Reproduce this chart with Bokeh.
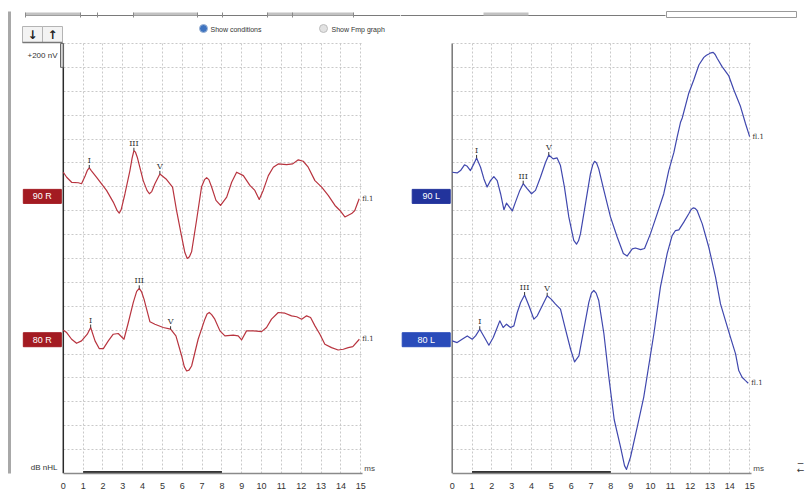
import numpy as np
from bokeh.plotting import figure
from bokeh.layouts import row
from bokeh.models import FixedTicker
from bokeh.core.properties import value
from bokeh.embed import file_html
from bokeh.resources import INLINE

# ------------------------------------------------------------------ data
time_ticks = list(range(0, 16))            # ms
grid_ms = list(range(1, 16))               # vertical dotted lines
grid_nv = list(range(200, 3601, 200))      # one division = 200 nV
stim_window = (1, 8)                       # thick bar on the time axis (ms)
scale_bar_nv = 200
peak_names = ["I", "III", "V"]
trace_tag = "fl.1"

levels = ["90 R", "80 R", "90 L", "80 L"]
baseline_nv = [2320, 1120, 2320, 1120]

t_90R = [0, 0.17, 0.42, 0.76, 0.92, 1.1, 1.22, 1.31, 1.42, 1.68, 2.18, 2.52, 2.72, 2.82, 2.92,
         3.11, 3.36, 3.47, 3.56, 3.64, 3.73, 4.03, 4.22, 4.34, 4.46, 4.62, 4.87, 5.18, 5.51,
         5.71, 5.97, 6.13, 6.25, 6.36, 6.47, 6.72, 6.97, 7.12, 7.23, 7.34, 7.48, 7.70, 7.93,
         8.24, 8.49, 8.74, 9.08, 9.41, 9.66, 9.88, 10.08, 10.34, 10.59, 10.84, 11.26, 11.57,
         11.85, 12.1, 12.35, 12.69, 13.03, 13.36, 13.7, 13.95, 14.2, 14.54, 14.7, 14.92]
a_90R = [202, 160, 118, 114, 106, 170, 220, 238, 214, 160, 50, -48, -120, -140, -110,
         22, 216, 320, 382, 370, 328, 132, 50, 22, 40, 106, 188, 146, 78,
         -118, -340, -470, -520, -505, -464, -200, 78, 140, 156, 140, 78, -34, -76,
         -6, 118, 202, 174, 92, 50, -26, 50, 174, 244, 272, 266, 272,
         306, 294, 244, 132, 78, 8, -76, -118, -172, -144, -118, -20]

t_80R = [0, 0.17, 0.42, 0.67, 0.92, 1.21, 1.38, 1.6, 1.81, 2.02, 2.27, 2.52, 2.77, 3.06, 3.28,
         3.53, 3.7, 3.83, 3.95, 4.07, 4.37, 4.62, 5.04, 5.41, 5.68, 5.97, 6.1, 6.22, 6.34, 6.47,
         6.8, 7.14, 7.25, 7.36, 7.48, 7.64, 7.9, 8.15, 8.57, 8.82, 8.99, 9.24, 9.58, 10.0, 10.25,
         10.5, 10.84, 11.18, 11.51, 11.77, 12.02, 12.27, 12.47, 12.69, 12.94, 13.19, 13.53,
         13.86, 14.12, 14.37, 14.6, 14.93]
a_80R = [80, 60, 4, -30, -10, 46, 102, -10, -74, -74, -10, 46, 52, 4, 144,
         312, 405, 430, 400, 340, 150, 130, 102, 88, 32, -136, -225, -262, -255, -220,
         4, 172, 215, 228, 210, 172, 74, 32, 38, 32, -2, 74, 74, 68, 102,
         172, 228, 222, 200, 192, 172, 200, 186, 116, 46, -38, -66,
         -86, -80, -66, -58, 4]

t_90L = [0, 0.25, 0.42, 0.62, 0.76, 0.92, 1.09, 1.23, 1.43, 1.6, 1.76, 1.93, 2.1, 2.27, 2.44,
         2.61, 2.74, 2.86, 3.03, 3.19, 3.41, 3.58, 3.78, 4.0, 4.2, 4.45, 4.71, 4.87, 5.09, 5.29,
         5.46, 5.66, 5.88, 6.13, 6.27, 6.37, 6.47, 6.72, 6.97, 7.09, 7.18, 7.28, 7.39, 7.65, 7.98,
         8.32, 8.63, 8.82, 9.08, 9.24, 9.5, 9.7, 10.0, 10.34, 10.67, 10.92, 11.18, 11.34, 11.51,
         11.6, 11.93, 12.18, 12.44, 12.69, 12.82, 12.94, 13.05, 13.16, 13.26, 13.36, 13.61, 13.95,
         14.2, 14.54, 14.79, 15.0]
a_90L = [202, 196, 216, 264, 252, 216, 272, 322, 244, 146, 78, 132, 166, 132, 22,
         -112, -56, -84, -122, -48, 50, 106, 64, 22, 50, 160, 286, 346, 314, 322,
         258, 78, -172, -368, -400, -372, -312, -62, 188, 265, 294, 280, 230, 50, -172,
         -340, -478, -500, -440, -432, -446, -436, -312, -144, 22, 216, 368, 494, 618,
         656, 864, 974, 1100, 1164, 1182, 1192, 1202, 1206, 1188, 1156, 1086, 1008,
         892, 752, 610, 500]

t_80L = [0, 0.25, 0.5, 0.76, 1.01, 1.18, 1.39, 1.63, 1.85, 2.07, 2.27, 2.4, 2.57, 2.74, 2.94,
         3.11, 3.28, 3.45, 3.65, 3.87, 4.12, 4.29, 4.54, 4.79, 4.99, 5.21, 5.46, 5.71, 5.97, 6.17,
         6.39, 6.64, 6.89, 7.02, 7.14, 7.26, 7.39, 7.65, 7.9, 8.17, 8.49, 8.69, 8.79, 8.99, 9.33,
         9.66, 10.17, 10.5, 10.84, 11.09, 11.26, 11.43, 11.68, 11.93, 12.05, 12.15, 12.25, 12.35,
         12.61, 12.94, 13.28, 13.53, 13.78, 14.03, 14.29, 14.45, 14.62, 14.79, 14.93]
a_80L = [-10, -24, 4, 32, 4, 32, 88, 18, -46, 18, 102, 158, 102, 130, 102,
         116, 228, 312, 374, 284, 172, 200, 284, 368, 340, 298, 256, 88, -80, -186,
         -136, 88, 312, 390, 412, 390, 328, 50, -314, -670, -900, -1054, -1086, -984, -732,
         -480, 50, 440, 720, 872, 914, 920, 984, 1054, 1090, 1104, 1100, 1082,
         970, 774, 524, 300, 160, 22, -118, -258, -314, -342, -364]

lat_90R = [1.31, 3.56, 4.87]
lat_80R = [1.38, 3.83, 5.41]
lat_90L = [1.23, 3.58, 4.87]
lat_80L = [1.39, 3.65, 4.79]

# ------------------------------------------------------------------ layout / style
H = 498
FRAME_BOTTOM = 473
PX_MS = 19.83
PX_DIV = 23.89
NV_PX = 200 / PX_DIV
AXIS_END = 15.08
ORIGIN_L, ORIGIN_R = 62.8, 451.7       # page x of 0 ms in each panel
W_L, W_R = 400, 405
RED, RED_BOX = "#b8343f", "#a31b22"
BLUE, BLUE_BOX, BLUE_BOX2 = "#4048ae", "#22339c", "#2a4cba"
SANS = "Liberation Sans"
SERIF = "DejaVu Serif"


def ms_at(px, origin):
    return (px - origin) / PX_MS


def nv_at(py):
    return (FRAME_BOTTOM - py) * NV_PX


def panel(width, page_left, origin, yaxis_color):
    p = figure(width=width, height=H,
               x_range=(ms_at(page_left, origin), ms_at(page_left + width, origin)),
               y_range=(0, nv_at(0)),
               y_axis_location=None, toolbar_location=None, output_backend="svg",
               min_border_left=0, min_border_right=0, min_border_top=0,
               min_border_bottom=H - FRAME_BOTTOM,
               outline_line_color=None, background_fill_color="white",
               border_fill_color="white")
    ax = p.xaxis[0]
    ax.ticker = FixedTicker(ticks=time_ticks)
    ax.bounds = (0, AXIS_END)
    ax.major_tick_line_color = None
    ax.minor_tick_line_color = None
    ax.axis_line_color = "#8a8a8a"
    ax.axis_line_width = 1.5
    ax.major_label_standoff = 3
    ax.major_label_text_font = SANS
    ax.major_label_text_font_size = "9px"
    ax.major_label_text_color = "#333333"

    gx = p.xgrid[0]
    gx.ticker = FixedTicker(ticks=grid_ms)
    gx.cross_bounds = (0, grid_nv[-1])
    gy = p.ygrid[0]
    gy.ticker = FixedTicker(ticks=grid_nv)
    gy.cross_bounds = (0, AXIS_END)
    for g in (gx, gy):
        g.grid_line_color = "#c9c9c9"
        g.grid_line_dash = "2 2"
        g.grid_line_width = 1

    # vertical axis line (no ticks in the original)
    p.segment(x0=[0], y0=[0], x1=[0], y1=[grid_nv[-1]], line_color=yaxis_color, line_width=1.5)
    # stimulus window bar on the time axis
    p.segment(x0=[stim_window[0]], y0=[1.2 * NV_PX], x1=[stim_window[1]], y1=[1.2 * NV_PX],
              line_color="#333333", line_width=2.6)
    p.text(x=[AXIS_END + 0.1], y=[5 * NV_PX], text=["ms"], text_font=value(SANS),
           text_font_size="8px", text_color="#444444", text_baseline="middle")
    return p


def draw_trace(p, t, a, base, color, lats, label, box_color, box_w):
    y = np.asarray(a, dtype=float) + base
    p.line(t, y, line_color=color, line_width=1.2, line_join="round")
    pk = np.interp(lats, t, y)
    stem = 3 * NV_PX
    p.segment(x0=lats, y0=pk, x1=lats, y1=pk + stem, line_color="#333333", line_width=1)
    p.text(x=lats, y=pk + stem, text=peak_names, text_align="center", text_baseline="bottom",
           text_font=value(SERIF), text_font_size="8px", text_color="#333333")
    p.text(x=[t[-1] + 0.15], y=[y[-1]], text=[trace_tag], text_align="left",
           text_baseline="middle", text_font=value(SERIF), text_font_size="7px",
           text_color="#333333")
    right_edge = -0.1
    xc = right_edge - box_w / 2 / PX_MS
    p.rect(x=[xc], y=[base], width=box_w, height=14, width_units="screen",
           height_units="screen", fill_color=box_color, line_color=box_color)
    p.text(x=[xc], y=[base], text=[label], text_align="center", text_baseline="middle",
           text_font=value(SANS), text_font_size="9px", text_color="white")


left = panel(W_L, 0, ORIGIN_L, "#2a2a2a")
right = panel(W_R, W_L, ORIGIN_R, "#777777")

draw_trace(left, t_90R, a_90R, baseline_nv[0], RED, lat_90R, levels[0], RED_BOX, 38)
draw_trace(left, t_80R, a_80R, baseline_nv[1], RED, lat_80R, levels[1], RED_BOX, 38)
draw_trace(right, t_90L, a_90L, baseline_nv[2], BLUE, lat_90L, levels[2], BLUE_BOX, 38)
draw_trace(right, t_80L, a_80L, baseline_nv[3], BLUE, lat_80L, levels[3], BLUE_BOX2, 48)

# ------------------------------------------------------------------ window chrome
# (positions below are page pixels, converted to each panel's data space)
L = lambda px: ms_at(px, ORIGIN_L)
R = lambda px: ms_at(px, ORIGIN_R)

# amplitude scale bar and captions (left panel)
left.quad(left=[L(60)], right=[0], bottom=[grid_nv[-1] - scale_bar_nv],
          top=[grid_nv[-1]], fill_color="#d4d4d4", line_color="#666666", line_width=1)
left.text(x=[L(57)], y=[nv_at(55)], text=["+200 nV"], text_align="right",
          text_baseline="middle", text_font=value(SANS), text_font_size="8px",
          text_color="#333333")
left.text(x=[L(57)], y=[nv_at(467)], text=["dB nHL"], text_align="right",
          text_baseline="middle", text_font=value(SANS), text_font_size="8px",
          text_color="#333333")

# window left border
left.segment(x0=[L(9)], y0=[nv_at(11)], x1=[L(9)], y1=[nv_at(498)],
             line_color="#a8a8a8", line_width=3)

# arrow buttons
left.quad(left=[L(22), L(42)], right=[L(42), L(62)],
          bottom=[nv_at(42)] * 2, top=[nv_at(26)] * 2,
          fill_color="#f3f3f3", line_color="#b4b4b4", line_width=1)
left.segment(x0=[L(22)], y0=[nv_at(42)], x1=[L(62)], y1=[nv_at(42)],
             line_color="#777777", line_width=1.5)
left.text(x=[L(32), L(52)], y=[nv_at(34)] * 2, text=["↓", "↑"],
          text_align="center", text_baseline="middle", text_font=value("DejaVu Sans"),
          text_font_size="12px", text_color="#222222", text_font_style="bold")

# radio buttons
left.scatter(x=[L(203), L(323)], y=[nv_at(28)] * 2, size=8,
             fill_color=["#3f74c0", "#e2e2e2"], line_color=["#9fb6d6", "#bdbdbd"])
left.text(x=[L(210), L(331)], y=[nv_at(28.5)] * 2,
          text=["Show conditions", "Show Fmp graph"], text_baseline="middle",
          text_font=value(SANS), text_font_size="7px", text_color="#333333")

# top tab strip
left.segment(x0=[L(25)], y0=[nv_at(15)], x1=[L(400)], y1=[nv_at(15)],
             line_color="#7a7a7a", line_width=1)
left.segment(x0=[L(v) for v in (25, 133, 267)], y0=[nv_at(13.5)] * 3,
             x1=[L(v) for v in (80, 197, 353)], y1=[nv_at(13.5)] * 3,
             line_color="#c2c2c2", line_width=3)
ticks_px = (25, 80, 97, 133, 197, 222, 267, 292, 353)
left.segment(x0=[L(v) for v in ticks_px], y0=[nv_at(12)] * len(ticks_px),
             x1=[L(v) for v in ticks_px], y1=[nv_at(17)] * len(ticks_px),
             line_color="#8a8a8a", line_width=1)
right.segment(x0=[R(400)], y0=[nv_at(15)], x1=[R(665)], y1=[nv_at(15)],
              line_color="#7a7a7a", line_width=1)
right.segment(x0=[R(483)], y0=[nv_at(13.5)], x1=[R(528)], y1=[nv_at(13.5)],
              line_color="#c2c2c2", line_width=3)
right.quad(left=[R(666)], right=[R(796)], bottom=[nv_at(17)], top=[nv_at(11)],
           fill_color="white", line_color="#9a9a9a", line_width=1)

# small icons bottom right
right.text(x=[R(800), R(800)], y=[nv_at(462), nv_at(469)], text=["−", "←"],
           text_align="center", text_baseline="middle", text_font=value("DejaVu Sans"),
           text_font_size="9px", text_color="#333333")

layout = row(left, right)
open("out.html", "w").write(file_html(layout, INLINE))
